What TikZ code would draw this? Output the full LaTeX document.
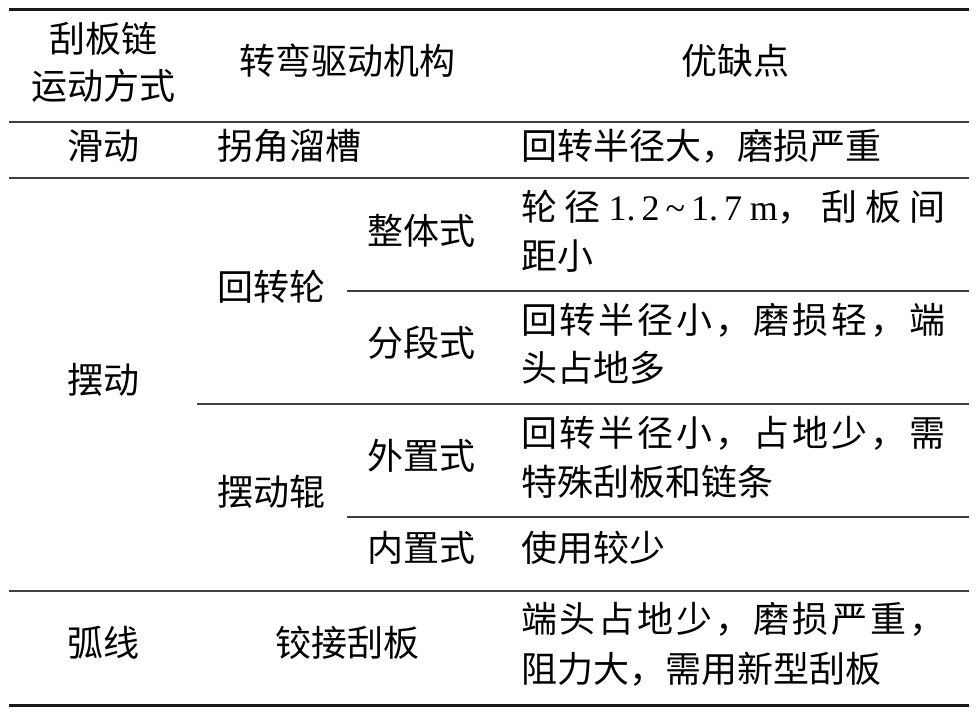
\documentclass[tikz,border=0pt]{standalone}
\usepackage{fontspec}
\setmainfont{Noto Sans CJK SC}
\newfontfamily\latin{Liberation Serif}
\def\sprA#1#2{#1\ifx\relax#2\else\hfill\expandafter\sprA\expandafter#2\fi}
\newcommand\spr[2]{\makebox[#1][s]{\sprA#2\relax}}
\tikzset{
  cell/.style={inner sep=0pt, font=\fontsize{36pt}{44pt}\selectfont, text height=0.82em, text depth=0.12em, yshift=-5pt},
  thickrule/.style={line width=3pt, black!90},
  midrule/.style={line width=1.6pt, black!75},
}
\begin{document}
\begin{tikzpicture}[x=1pt,y=-1pt]
\useasboundingbox (0,0) rectangle (976,720);
% rules
\coordinate (tl) at (9,9);   \coordinate (tr) at (969,9);
\coordinate (hl) at (9,122); \coordinate (hr) at (969,122);
\coordinate (al) at (9,178); \coordinate (ar) at (969,178);
\coordinate (bl) at (347,291); \coordinate (br) at (969,291);
\coordinate (cl) at (197,404); \coordinate (cr) at (969,404);
\coordinate (dl) at (347,517); \coordinate (dr) at (969,517);
\coordinate (el) at (9,591); \coordinate (er) at (969,591);
\coordinate (fl) at (9,705); \coordinate (fr) at (969,705);
\draw[thickrule] (tl) -- (tr);
\draw[midrule] (hl) -- (hr);
\draw[midrule] (al) -- (ar);
\draw[midrule] (bl) -- (br);
\draw[midrule] (cl) -- (cr);
\draw[midrule] (dl) -- (dr);
\draw[midrule] (el) -- (er);
\draw[thickrule] (fl) -- (fr);
% header
\node[cell] (h1a) at (103,44) {刮板链};
\node[cell] (h1b) at (103,91) {运动方式};
\node[cell] (h2) at (347,66) {转弯驱动机构};
\node[cell] (h3) at (735,66) {优缺点};
% row slide
\node[cell] (r1a) at (103,151) {滑动};
\node[cell, anchor=west] (r1b) at (217,151) {拐角溜槽};
\node[cell, anchor=west] (r1c) at (521,151) {回转半径大，磨损严重};
% swing
\node[cell] (r2a) at (103,385) {摆动};
\node[cell, anchor=west] (hzl) at (217,292) {回转轮};
\node[cell, anchor=west] (bdg) at (217,497) {摆动辊};
\node[cell, anchor=west] (zt) at (367,236) {整体式};
\node[cell, anchor=west] (fd) at (367,348) {分段式};
\node[cell, anchor=west] (wz) at (367,461) {外置式};
\node[cell, anchor=west] (nz) at (367,553) {内置式};
\node[cell, anchor=west] (zt1) at (521,212) {\makebox[424pt][s]{轮\hfill 径\hfill{\latin 1.\,2\,\textasciitilde\,1.\,7}\hfill{\latin m}，\hfill 刮\hfill 板\hfill 间}};
\node[cell, anchor=west] (zt2) at (521,261) {距小};
\node[cell, anchor=west] (fd1) at (521,325) {\spr{424pt}{回转半径小，磨损轻，端}};
\node[cell, anchor=west] (fd2) at (521,373) {头占地多};
\node[cell, anchor=west] (wz1) at (521,438) {\spr{424pt}{回转半径小，占地少，需}};
\node[cell, anchor=west] (wz2) at (521,487) {特殊刮板和链条};
\node[cell, anchor=west] (nz1) at (521,553) {使用较少};
% arc
\node[cell] (r3a) at (103,648) {弧线};
\node[cell] (r3b) at (347,648) {铰接刮板};
\node[cell, anchor=west] (r3c1) at (521,624) {\spr{424pt}{端头占地少，磨损严重，}};
\node[cell, anchor=west] (r3c2) at (521,674) {阻力大，需用新型刮板};
\end{tikzpicture}
\end{document}
